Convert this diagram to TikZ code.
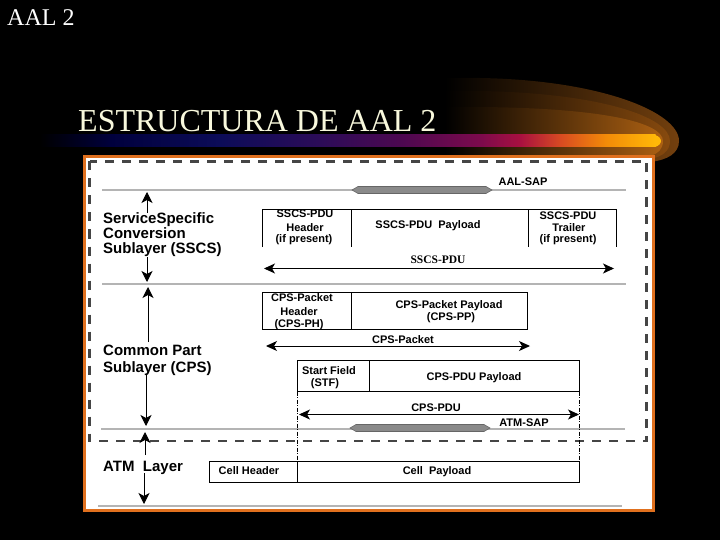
\documentclass[tikz,border=0pt]{standalone}
\usepackage{fontspec}
\setmainfont{Liberation Serif}
\setsansfont{Liberation Sans}
\usetikzlibrary{arrows.meta}
\definecolor{titlecream}{HTML}{F8F8DC}
\definecolor{frameorange}{HTML}{E0701E}
\definecolor{dashgray}{HTML}{454545}
\definecolor{sapgray}{HTML}{B4B4B4}
\definecolor{sapfill}{HTML}{8A8A8A}
\definecolor{sapedge}{HTML}{666666}
\definecolor{bA}{HTML}{00003C}
\definecolor{bB}{HTML}{0C0C58}
\definecolor{bC}{HTML}{2C0C58}
\definecolor{bD}{HTML}{4C0850}
\definecolor{bE}{HTML}{7C0A4C}
\definecolor{bF}{HTML}{A81040}
\definecolor{bG}{HTML}{D84A22}
\definecolor{bH}{HTML}{F28A08}
\definecolor{bI}{HTML}{FFB808}
\definecolor{oA}{HTML}{2A1602}
\definecolor{oB}{HTML}{73400E}
\definecolor{mA}{HTML}{361E04}
\definecolor{mB}{HTML}{874A0E}
\definecolor{iA}{HTML}{452705}
\definecolor{iB}{HTML}{AC6012}
\tikzset{
  lbl/.style={font=\sffamily\bfseries\fontsize{11}{12}\selectfont, anchor=base, inner sep=0pt},
  serlbl/.style={font=\rmfamily\bfseries\fontsize{11.5}{12}\selectfont, anchor=base, inner sep=0pt},
  big/.style={font=\sffamily\bfseries\fontsize{15}{16}\selectfont, anchor=base west, inner sep=0pt},
  cellline/.style={draw=black, line width=1pt},
  sapline/.style={draw=sapgray, line width=2pt},
  sapbar/.style={fill=sapfill, draw=sapedge, line width=0.6pt},
  tipv/.style={-{Stealth[length=11pt,width=11pt,inset=3pt]}, line width=1pt},
  dbl/.style={{Stealth[length=11pt,width=10pt,inset=3pt]}-{Stealth[length=11pt,width=10pt,inset=3pt]}, line width=1pt},
  dashbox/.style={draw=dashgray, line width=2.6pt, dash pattern=on 9pt off 8pt},
  dashv/.style={draw=black, line width=0.6pt, dash pattern=on 4pt off 1.5pt on 1pt off 1.5pt},
}
\begin{document}
\begin{tikzpicture}[x=1pt,y=-1pt]
\useasboundingbox (0,0) rectangle (720,540);
\fill[black] (0,0) rectangle (720,540);

% swoosh bands
\shade[left color=black, middle color=oA, right color=oB]
  (445,78) -- (480,78) .. controls (600,80) and (679,112) .. (679,141)
  .. controls (679,153) and (668,160) .. (650,162) -- (445,162) -- cycle;
\shade[left color=black, middle color=mA, right color=mB]
  (445,91) -- (480,91) .. controls (600,93) and (670,117) .. (670,141)
  .. controls (670,151) and (662,157) .. (650,159) -- (445,159) -- cycle;
\shade[left color=black, middle color=iA, right color=iB]
  (445,107) -- (480,107) .. controls (600,108) and (663,122) .. (663,141)
  .. controls (663,149) and (658,154) .. (650,156) -- (445,156) -- cycle;

% gradient bar
\shade[left color=black, right color=bA] (40,135) rectangle (110.5,147);
\shade[left color=bA, right color=bB] (110,135) rectangle (220.5,147);
\shade[left color=bB, right color=bC] (220,135) rectangle (320.5,147);
\shade[left color=bC, right color=bD] (320,135) rectangle (400.5,147);
\shade[left color=bD, right color=bE] (400,135) rectangle (480.5,147);
\shade[left color=bE, right color=bF] (480,135) rectangle (520.5,147);
\shade[left color=bF, right color=bG] (520,135) rectangle (560.5,147);
\shade[left color=bG, right color=bH] (560,135) rectangle (605.5,147);
\shade[left color=bH, right color=bI] (605,135) rectangle (655.5,147);
\fill[bI] (655,135) .. controls (659,136) and (661,139) .. (661,141)
  .. controls (661,143) and (659,146) .. (655,147) -- cycle;

% titles
\node[anchor=base west, inner sep=0pt, text=white, font=\rmfamily\fontsize{24}{26}\selectfont] (slidetag) at (7,26) {AAL 2};
\node[anchor=base west, inner sep=0pt, text=titlecream, font=\rmfamily\fontsize{32}{34}\selectfont] (title) at (78,132) {ESTRUCTURA DE AAL 2};

% picture frame
\draw[frameorange, line width=3pt, fill=white] (84.5,156.5) rectangle (653.5,510.5);
\draw[dashbox] (89.5,161.5) rectangle (646.5,441);

% gray SAP lines
\coordinate (g1a) at (102,190); \coordinate (g1b) at (626,190);
\coordinate (g2a) at (102,284); \coordinate (g2b) at (626,284);
\coordinate (g3a) at (101,429); \coordinate (g3b) at (625,429);
\coordinate (g4a) at (98,506);  \coordinate (g4b) at (622,506);
\draw[sapline] (g1a) -- (g1b);
\draw[sapline] (g2a) -- (g2b);
\draw[sapline] (g3a) -- (g3b);
\draw[sapline] (g4a) -- (g4b);
\draw[sapbar] (352,190) -- (358,186.5) -- (486,186.5) -- (492,190) -- (486,193.5) -- (358,193.5) -- cycle;
\draw[sapbar] (350,428) -- (356,424.5) -- (484,424.5) -- (490,428) -- (484,431.5) -- (356,431.5) -- cycle;

% left-side vertical arrows
\coordinate (v1s) at (147,213); \coordinate (v1e) at (147,192);
\coordinate (v2s) at (147,257); \coordinate (v2e) at (147,282);
\coordinate (v3s) at (148,342); \coordinate (v3e) at (148,287);
\coordinate (v4s) at (146,375); \coordinate (v4e) at (146,426);
\coordinate (v5s) at (145,455); \coordinate (v5e) at (145,432);
\coordinate (v6s) at (144,473); \coordinate (v6e) at (144,504);
\draw[tipv] (v1s) -- (v1e);
\draw[tipv] (v2s) -- (v2e);
\draw[tipv] (v3s) -- (v3e);
\draw[tipv] (v4s) -- (v4e);
\draw[tipv] (v5s) -- (v5e);
\draw[tipv] (v6s) -- (v6e);

% layer labels
\node[big] (ssA) at (103,224) {ServiceSpecific};
\node[big] (ssB) at (103,238.5) {Conversion};
\node[big] (ssC) at (103,253) {Sublayer (SSCS)};
\node[big] (cpA) at (103,355.5) {Common Part};
\node[big] (cpB) at (103,372) {Sublayer (CPS)};
\node[big] (atm) at (103,471) {ATM~~Layer};

% SSCS-PDU box (open at bottom)
\draw[cellline] (262.5,247) -- (262.5,209.5) -- (616,209.5) -- (616,247);
\draw[cellline] (351,209.5) -- (351,247);
\draw[cellline] (528,209.5) -- (528,247);
\node[lbl] (shA) at (305,218) {SSCS-PDU};
\node[lbl] (shB) at (305,231) {Header};
\node[lbl] (shC) at (304,243) {(if present)};
\node[lbl] (spay) at (428,229) {SSCS-PDU~~Payload};
\node[lbl] (stA) at (568,219) {SSCS-PDU};
\node[lbl] (stB) at (569,231) {Trailer};
\node[lbl] (stC) at (568,242) {(if present)};
\node[lbl] (aalsap) at (523,186) {AAL-SAP};

% SSCS-PDU extent
\coordinate (s1a) at (264,268.5); \coordinate (s1b) at (614,268.5);
\draw[dbl] (s1a) -- (s1b);
\node[serlbl] (sscspdu) at (438,263) {SSCS-PDU};

% CPS-Packet
\draw[cellline] (262.5,292) rectangle (527,329);
\draw[cellline] (351,292) -- (351,330);
\node[lbl] (phA) at (302,301) {CPS-Packet};
\node[lbl] (phB) at (299,315) {Header};
\node[lbl] (phC) at (299,327) {(CPS-PH)};
\node[lbl] (ppA) at (449,308) {CPS-Packet Payload};
\node[lbl] (ppB) at (451,320) {(CPS-PP)};
\coordinate (c1a) at (266,346); \coordinate (c1b) at (530,346);
\draw[dbl] (c1a) -- (c1b);
\node[lbl] (cpspkt) at (403,343) {CPS-Packet};

% CPS-PDU
\draw[cellline] (297,360.5) rectangle (579,391.5);
\draw[cellline] (369,360.5) -- (369,391.5);
\node[lbl] (stfA) at (329,374) {Start Field};
\node[lbl] (stfB) at (325,386) {(STF)};
\node[lbl] (cpay) at (474,380) {CPS-PDU Payload};
\coordinate (d1a) at (297,391.5); \coordinate (d1b) at (297,461);
\coordinate (d2a) at (579,391.5); \coordinate (d2b) at (579,461);
\draw[dashv] (d1a) -- (d1b);
\draw[dashv] (d2a) -- (d2b);
\coordinate (p1a) at (299,414.5); \coordinate (p1b) at (579,414.5);
\draw[dbl] (p1a) -- (p1b);
\node[lbl] (cpspdu) at (436,411) {CPS-PDU};
\node[lbl] (atmsap) at (524,426) {ATM-SAP};

% ATM cell
\draw[cellline] (209,461) rectangle (579,482);
\draw[cellline] (297,461) -- (297,482);
\node[lbl] (chdr) at (249,474) {Cell Header};
\node[lbl] (cpl) at (437,474) {Cell~~Payload};
\end{tikzpicture}
\end{document}
